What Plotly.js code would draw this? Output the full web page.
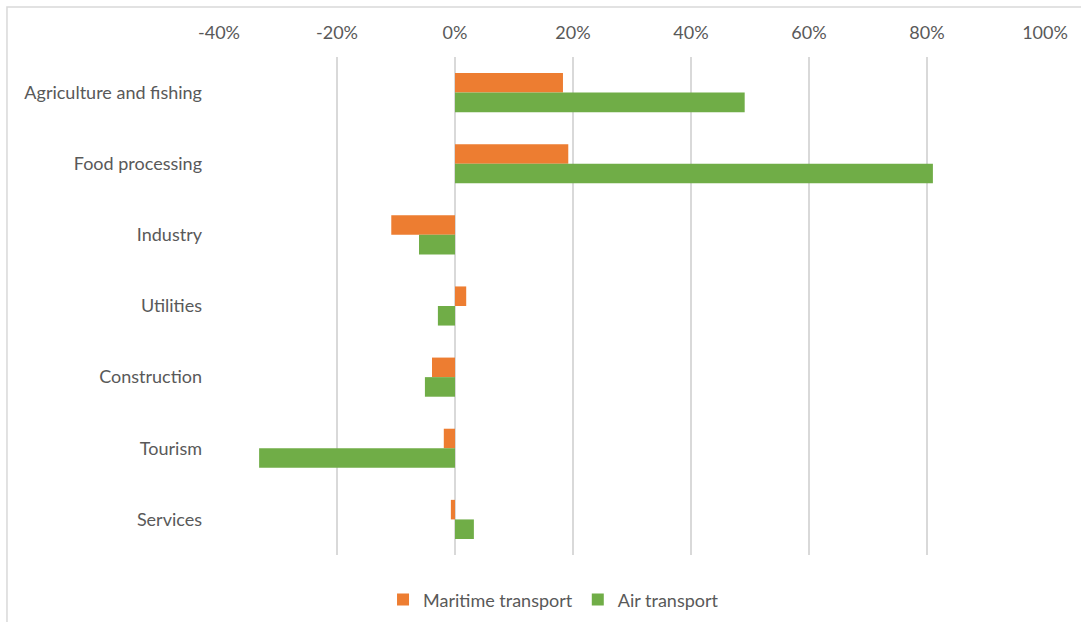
<!DOCTYPE html>
<html>
<head>
<meta charset="utf-8">
<script src="https://cdn.plot.ly/plotly-3.0.1.min.js"></script>
<style>html,body{margin:0;padding:0;background:#fff;}#chart{width:1081px;height:622px;}</style>
</head>
<body>
<div id="chart"></div>
<script>
const categories = ["Agriculture and fishing", "Food processing", "Industry", "Utilities", "Construction", "Tourism", "Services"];
const maritime = [18.3, 19.2, -10.8, 1.9, -3.9, -1.9, -0.7];
const air = [49.1, 81.0, -6.1, -2.9, -5.1, -33.2, 3.2];
const tickVals = [-40, -20, 0, 20, 40, 60, 80, 100];
const tickText = tickVals.map(v => v + "%");

const font = {family: "Lato, 'Open Sans', sans-serif", size: 18, color: "#595959"};

const traces = [
  {type: "bar", orientation: "h", name: "Maritime transport", y: categories, x: maritime,
   marker: {color: "#ED7D31"}, hoverinfo: "x+y"},
  {type: "bar", orientation: "h", name: "Air transport", y: categories, x: air,
   marker: {color: "#70AD47"}, hoverinfo: "x+y"}
];

const layout = {
  width: 1081, height: 622,
  margin: {l: 219, r: 36, t: 57, b: 67, autoexpand: false},
  paper_bgcolor: "#ffffff", plot_bgcolor: "#ffffff",
  font: font,
  barmode: "group", bargap: 0.45, bargroupgap: 0,
  showlegend: true,
  legend: {orientation: "h", x: 0.405, xanchor: "center", y: -0.09, yanchor: "middle",
           font: font, traceorder: "normal", itemwidth: 30},
  xaxis: {side: "top", range: [-40, 100], tickvals: tickVals, ticktext: tickText,
          showgrid: true, gridcolor: "#d9d9d9", gridwidth: 2, zeroline: true,
          zerolinecolor: "#d9d9d9", zerolinewidth: 2, showline: false, ticks: "",
          ticklabelstandoff: 13, tickfont: font, fixedrange: true, automargin: false},
  yaxis: {autorange: "reversed", showgrid: false, zeroline: false, showline: false,
          ticks: "", ticklabelstandoff: 16, tickfont: font, fixedrange: true, automargin: false},
  shapes: [{type: "rect", xref: "paper", yref: "paper", x0: -0.2567, x1: 1.2, y0: -0.3, y1: 1.1004,
            line: {color: "#d9d9d9", width: 1.5}, fillcolor: "rgba(0,0,0,0)", layer: "below"}]
};

Plotly.newPlot("chart", traces, layout, {displayModeBar: false, staticPlot: true});
</script>
</body>
</html>
